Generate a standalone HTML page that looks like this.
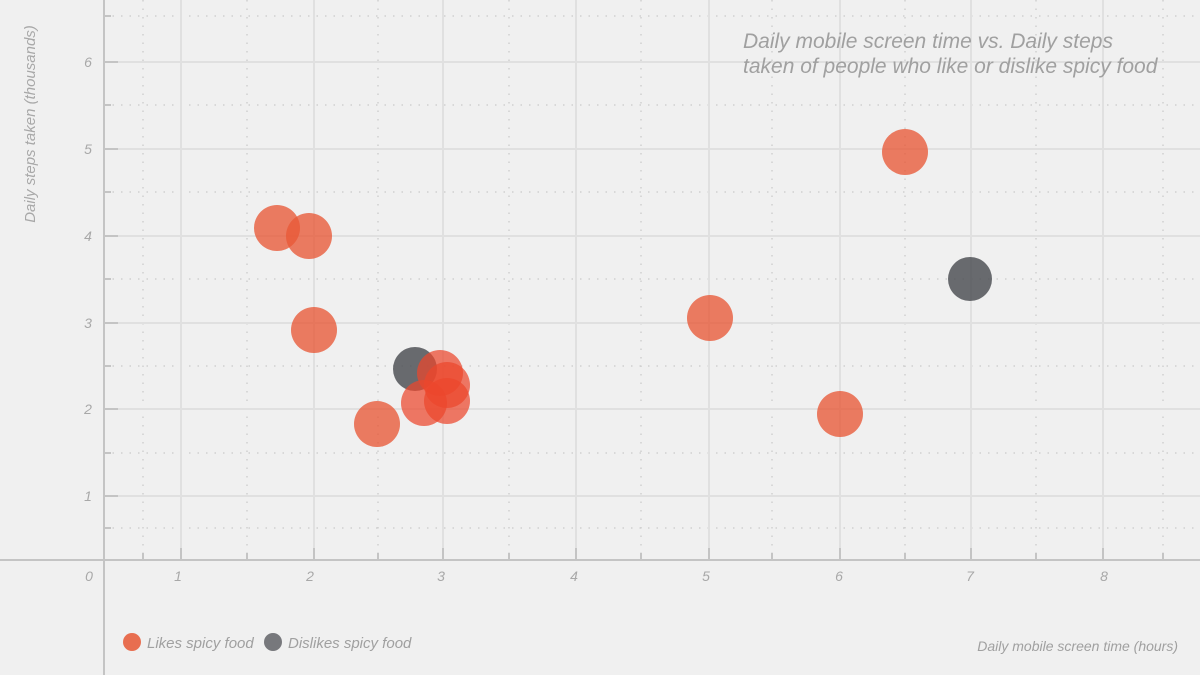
<!DOCTYPE html>
<html><head><style>
html,body{margin:0;padding:0;background:#f0f0f0;}
svg{display:block;font-family:"Liberation Sans",sans-serif;font-style:italic;}
</style></head><body>
<svg width="1200" height="675" viewBox="0 0 1200 675">
<rect width="1200" height="675" fill="#f0f0f0"/>
<g stroke="#cfcfcf" stroke-width="1.5" stroke-dasharray="1.5 7">
<line x1="143" y1="0" x2="143" y2="560"/><line x1="247" y1="0" x2="247" y2="560"/><line x1="378" y1="0" x2="378" y2="560"/><line x1="509" y1="0" x2="509" y2="560"/><line x1="641" y1="0" x2="641" y2="560"/><line x1="772" y1="0" x2="772" y2="560"/><line x1="905" y1="0" x2="905" y2="560"/><line x1="1036" y1="0" x2="1036" y2="560"/><line x1="1163" y1="0" x2="1163" y2="560"/>
<line x1="104" y1="16" x2="1200" y2="16"/><line x1="104" y1="105" x2="1200" y2="105"/><line x1="104" y1="192" x2="1200" y2="192"/><line x1="104" y1="279" x2="1200" y2="279"/><line x1="104" y1="366" x2="1200" y2="366"/><line x1="104" y1="453" x2="1200" y2="453"/><line x1="104" y1="528" x2="1200" y2="528"/>
</g>
<g stroke="#e0e0e0" stroke-width="2">
<line x1="181" y1="0" x2="181" y2="560"/><line x1="314" y1="0" x2="314" y2="560"/><line x1="443" y1="0" x2="443" y2="560"/><line x1="576" y1="0" x2="576" y2="560"/><line x1="709" y1="0" x2="709" y2="560"/><line x1="840" y1="0" x2="840" y2="560"/><line x1="971" y1="0" x2="971" y2="560"/><line x1="1103" y1="0" x2="1103" y2="560"/>
<line x1="104" y1="62" x2="1200" y2="62"/><line x1="104" y1="149" x2="1200" y2="149"/><line x1="104" y1="236" x2="1200" y2="236"/><line x1="104" y1="323" x2="1200" y2="323"/><line x1="104" y1="409" x2="1200" y2="409"/><line x1="104" y1="496" x2="1200" y2="496"/>
</g>
<g stroke="#c4c4c4" stroke-width="2">
<line x1="104" y1="0" x2="104" y2="675"/><line x1="0" y1="560" x2="1200" y2="560"/>
<line x1="104" y1="62" x2="118" y2="62"/><line x1="104" y1="149" x2="118" y2="149"/><line x1="104" y1="236" x2="118" y2="236"/><line x1="104" y1="323" x2="118" y2="323"/><line x1="104" y1="409" x2="118" y2="409"/><line x1="104" y1="496" x2="118" y2="496"/>
<line x1="104" y1="16" x2="111" y2="16"/><line x1="104" y1="105" x2="111" y2="105"/><line x1="104" y1="192" x2="111" y2="192"/><line x1="104" y1="279" x2="111" y2="279"/><line x1="104" y1="366" x2="111" y2="366"/><line x1="104" y1="453" x2="111" y2="453"/><line x1="104" y1="528" x2="111" y2="528"/>
<line x1="181" y1="548" x2="181" y2="560"/><line x1="314" y1="548" x2="314" y2="560"/><line x1="443" y1="548" x2="443" y2="560"/><line x1="576" y1="548" x2="576" y2="560"/><line x1="709" y1="548" x2="709" y2="560"/><line x1="840" y1="548" x2="840" y2="560"/><line x1="971" y1="548" x2="971" y2="560"/><line x1="1103" y1="548" x2="1103" y2="560"/>
<line x1="143" y1="553" x2="143" y2="560"/><line x1="247" y1="553" x2="247" y2="560"/><line x1="378" y1="553" x2="378" y2="560"/><line x1="509" y1="553" x2="509" y2="560"/><line x1="641" y1="553" x2="641" y2="560"/><line x1="772" y1="553" x2="772" y2="560"/><line x1="905" y1="553" x2="905" y2="560"/><line x1="1036" y1="553" x2="1036" y2="560"/><line x1="1163" y1="553" x2="1163" y2="560"/>
</g>
<g fill="#a8a8a8" font-size="14" text-anchor="middle">
<text x="88" y="67">6</text><text x="88" y="154">5</text><text x="88" y="241">4</text><text x="88" y="328">3</text><text x="88" y="414">2</text><text x="88" y="501">1</text>
<text x="89" y="581">0</text><text x="178" y="581">1</text><text x="310" y="581">2</text><text x="441" y="581">3</text><text x="574" y="581">4</text><text x="706" y="581">5</text><text x="839" y="581">6</text><text x="970" y="581">7</text><text x="1104" y="581">8</text>
</g>
<text transform="translate(35,124) rotate(-90)" fill="#a8a8a8" font-size="15" text-anchor="middle">Daily steps taken (thousands)</text>
<text x="1178" y="651" fill="#a0a0a0" font-size="14" text-anchor="end">Daily mobile screen time (hours)</text>
<g fill="#a0a0a0" font-size="21">
<text x="743" y="48">Daily mobile screen time vs. Daily steps</text>
<text x="743" y="73">taken of people who like or dislike spicy food</text>
</g>
<g fill="rgb(232,88,55)" fill-opacity="0.78">
<circle cx="277" cy="228" r="23"/><circle cx="309" cy="236" r="23"/><circle cx="314" cy="330" r="23"/><circle cx="377" cy="424" r="23"/>
<circle cx="710" cy="318" r="23"/><circle cx="840" cy="414" r="23"/><circle cx="905" cy="152" r="23"/>
</g>
<g fill="rgb(70,72,78)" fill-opacity="0.8">
<circle cx="415" cy="369" r="22"/><circle cx="970" cy="279" r="22"/>
</g>
<g fill="rgb(236,70,45)" fill-opacity="0.72">
<circle cx="440" cy="373" r="23"/><circle cx="447" cy="385" r="23"/><circle cx="424" cy="403" r="23"/><circle cx="447" cy="401" r="23"/>
</g>
<circle cx="132" cy="642" r="9" fill="rgb(232,110,80)"/>
<circle cx="273" cy="642" r="9" fill="#77787c"/>
<g fill="#a0a0a0" font-size="15">
<text x="147" y="648">Likes spicy food</text>
<text x="288" y="648">Dislikes spicy food</text>
</g>
</svg>
</body></html>
